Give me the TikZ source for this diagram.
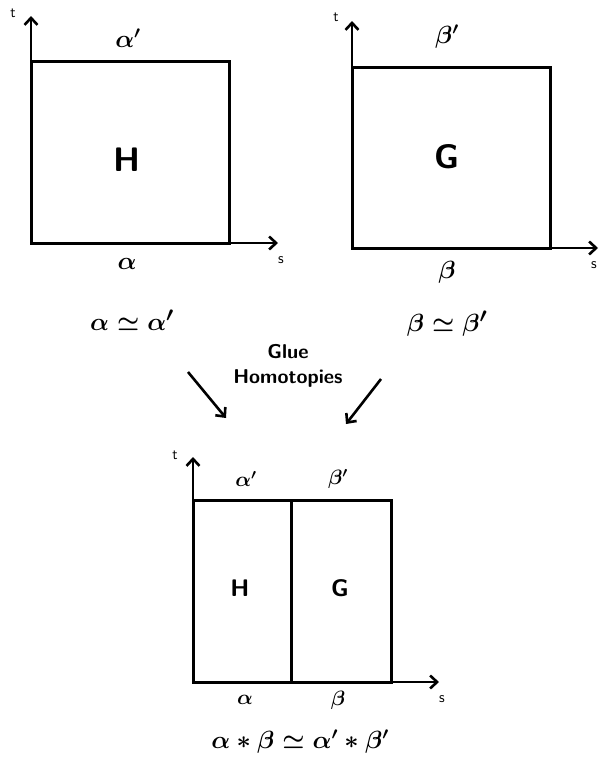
\documentclass[tikz,border=0pt]{standalone}
\usepackage{amssymb}
\usetikzlibrary{arrows.meta}
\begin{document}
\begin{tikzpicture}[x=1pt, y=-1pt, line width=3pt,
    >={Straight Barb[length=7pt, width=13pt]},
    axis/.style={->, line width=2.6pt},
    square/.style={line width=3pt},
    var/.style={font=\fontsize{15}{16}\selectfont\sffamily},
    edge/.style={font=\fontsize{26}{28}\selectfont\boldmath},
    map/.style={font=\fontsize{34}{36}\selectfont\sffamily\bfseries},
    rel/.style={font=\fontsize{32}{34}\selectfont\boldmath}]
  \useasboundingbox (0,0) rectangle (600,763);
  % Homotopy H: alpha ~ alpha'
  \coordinate (oH) at (31,243);
  \coordinate (tH) at (31,16);
  \coordinate (sH) at (278,243);
  \draw[square] (oH) rectangle (229,61);
  \draw[axis] (oH) -- (tH);
  \draw[axis] (oH) -- (sH);
  \node[var] (lt1) at (13,13) {t};
  \node[var] (ls1) at (281,260) {s};
  \node[edge] (aTop) at (128,38) {$\alpha'$};
  \node[map] (H1) at (127,160) {H};
  \node[edge] (aBot) at (127,264) {$\alpha$};
  \node[rel] (aRel) at (132,320) {$\alpha\simeq\alpha'$};
  % Homotopy G: beta ~ beta'
  \coordinate (oG) at (352,248);
  \coordinate (tG) at (352,21);
  \coordinate (sG) at (598,248);
  \draw[square] (oG) rectangle (550,67);
  \draw[axis] (oG) -- (tG);
  \draw[axis] (oG) -- (sG);
  \node[var] (lt2) at (336,17) {t};
  \node[var] (ls2) at (594,265) {s};
  \node[edge] (bTop) at (447,37) {$\beta'$};
  \node[map] (G1) at (447,157) {G};
  \node[edge] (bBot) at (447,272) {$\beta$};
  \node[rel] (bRel) at (447,324) {$\beta\simeq\beta'$};
  % Glue
  \node[font=\fontsize{20}{25}\selectfont\sffamily\bfseries, align=center] (glue) at (288,366) {Glue\\Homotopies};
  \coordinate (inL) at (226,418);
  \coordinate (inR) at (346,424);
  \draw[->, line width=2.6pt] (188,372) -- (inL);
  \draw[->, line width=2.6pt] (381,379) -- (inR);
  % Glued homotopy
  \coordinate (oHG) at (193,682);
  \coordinate (tHG) at (193,457);
  \coordinate (sHG) at (439,682);
  \coordinate (mTop) at (291,500);
  \coordinate (mBot) at (291,682);
  \draw[square] (oHG) rectangle (391,500);
  \draw[square] (mBot) -- (mTop);
  \draw[axis] (oHG) -- (tHG);
  \draw[axis] (oHG) -- (sHG);
  \node[var] (lt3) at (175,455) {t};
  \node[var] (ls3) at (442,699) {s};
  \node[edge, font=\fontsize{22}{24}\selectfont\boldmath] (abTop1) at (246,479) {$\alpha'$};
  \node[edge, font=\fontsize{22}{24}\selectfont\boldmath] (abTop2) at (338,479) {$\beta'$};
  \node[map, font=\fontsize{24}{26}\selectfont\sffamily\bfseries] (H2) at (240,588) {H};
  \node[map, font=\fontsize{24}{26}\selectfont\sffamily\bfseries] (G2) at (340,588) {G};
  \node[edge, font=\fontsize{22}{24}\selectfont\boldmath] (abBot1) at (245,700) {$\alpha$};
  \node[edge, font=\fontsize{22}{24}\selectfont\boldmath] (abBot2) at (338,700) {$\beta$};
  \node[rel, font=\fontsize{27}{29}\selectfont\boldmath] (abRel) at (300,742) {$\alpha*\beta\simeq\alpha'*\beta'$};
\end{tikzpicture}
\end{document}
